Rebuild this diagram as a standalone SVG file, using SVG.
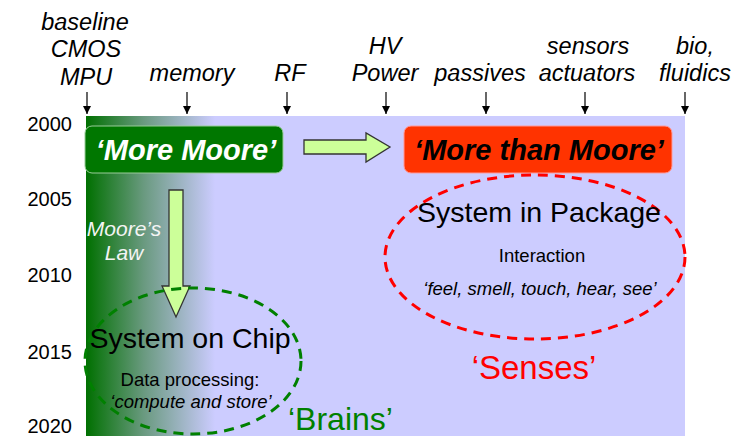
<svg xmlns="http://www.w3.org/2000/svg" width="744" height="436" viewBox="0 0 744 436">
<defs>
<linearGradient id="bg" x1="86" y1="0" x2="215" y2="0" gradientUnits="userSpaceOnUse">
<stop offset="0" stop-color="#007000"/>
<stop offset="0.45" stop-color="#6a9a80"/>
<stop offset="1" stop-color="#ccccff"/>
</linearGradient>
<marker id="ah" viewBox="0 0 10 10" refX="10" refY="5" markerWidth="8" markerHeight="8" markerUnits="userSpaceOnUse" orient="auto">
<path d="M0,0 L10,5 L0,10 z" fill="#000"/>
</marker>
<style>
text{font-family:"Liberation Sans",Arial,sans-serif}
.top{font-size:23.5px;font-style:italic;text-anchor:middle;fill:#000}
.yr{font-size:20px;text-anchor:end;fill:#000}
.tick{stroke:#000;stroke-width:1.2;marker-end:url(#ah)}
.big{font-size:29px;font-weight:bold;font-style:italic;text-anchor:middle}
.arr{fill:#ccff99;stroke:#333;stroke-width:1.3}
.h1{font-size:28.5px;text-anchor:middle;fill:#000}
.h2{font-size:18.5px;text-anchor:middle;fill:#000}
</style>
</defs>
<rect x="86" y="116" width="599" height="320" fill="url(#bg)"/>
<g id="labels">
<text class="top" x="85" y="30">baseline</text>
<text class="top" x="86" y="57">CMOS</text>
<text class="top" x="86" y="85">MPU</text>
<text class="top" x="192" y="81">memory</text>
<text class="top" x="290" y="81">RF</text>
<text class="top" x="385" y="54">HV</text>
<text class="top" x="385" y="81">Power</text>
<text class="top" x="480" y="81">passives</text>
<text class="top" x="588" y="54">sensors</text>
<text class="top" x="587" y="81">actuators</text>
<text class="top" x="695" y="54">bio,</text>
<text class="top" x="695" y="81">fluidics</text>
<text class="yr" x="72" y="131">2000</text>
<text class="yr" x="72" y="206">2005</text>
<text class="yr" x="72" y="282">2010</text>
<text class="yr" x="72" y="359">2015</text>
<text class="yr" x="72" y="433">2020</text>
</g>
<g id="connectors">
<line class="tick" x1="87" y1="92" x2="87" y2="114"/>
<line class="tick" x1="187" y1="92" x2="187" y2="114"/>
<line class="tick" x1="287" y1="92" x2="287" y2="114"/>
<line class="tick" x1="386" y1="92" x2="386" y2="114"/>
<line class="tick" x1="486" y1="92" x2="486" y2="114"/>
<line class="tick" x1="585" y1="92" x2="585" y2="114"/>
<line class="tick" x1="685" y1="92" x2="685" y2="114"/>
<path class="arr" d="M304,140 L366,140 L366,133 L390,147 L366,162 L366,154 L304,154 z"/>
<path class="arr" d="M169,190 L183,190 L183,286 L190,286 L176,317 L162,286 L169,286 z"/>
</g>
<g id="more-moore">
<rect x="85" y="126" width="198" height="47" rx="7" fill="#007700" stroke="#9c9" stroke-width="1"/>
<text class="big" x="186" y="160" fill="#fff">‘More Moore’</text>
</g>
<g id="more-than-moore">
<rect x="404" y="126" width="268" height="47" rx="7" fill="#ff3300" stroke="#f99" stroke-width="1"/>
<text class="big" x="539" y="160" fill="#000">‘More than Moore’</text>
</g>
<g id="moores-law">
<text x="124" y="236" font-size="21" font-style="italic" fill="#f4f4f4" text-anchor="middle">Moore’s</text>
<text x="124" y="260" font-size="21" font-style="italic" fill="#f4f4f4" text-anchor="middle">Law</text>
</g>
<g id="soc">
<ellipse cx="193" cy="361" rx="108" ry="73" fill="none" stroke="#008000" stroke-width="3" stroke-dasharray="10,7"/>
<text class="h1" x="190" y="348">System on Chip</text>
<text class="h2" x="190" y="386">Data processing:</text>
<text class="h2" x="191" y="408" font-size="19" font-style="italic">‘compute and store’</text>
<text x="288" y="430" font-size="32" fill="#008000">‘Brains’</text>
</g>
<g id="sip">
<ellipse cx="535" cy="257" rx="150" ry="82" fill="none" stroke="#ff0000" stroke-width="3" stroke-dasharray="10,7"/>
<text class="h1" x="539" y="222">System in Package</text>
<text class="h2" x="542" y="262">Interaction</text>
<text class="h2" x="540" y="295" font-size="19" font-style="italic">‘feel, smell, touch, hear, see’</text>
<text x="534" y="379" font-size="33" fill="#ff0000" text-anchor="middle">‘Senses’</text>
</g>
</svg>
